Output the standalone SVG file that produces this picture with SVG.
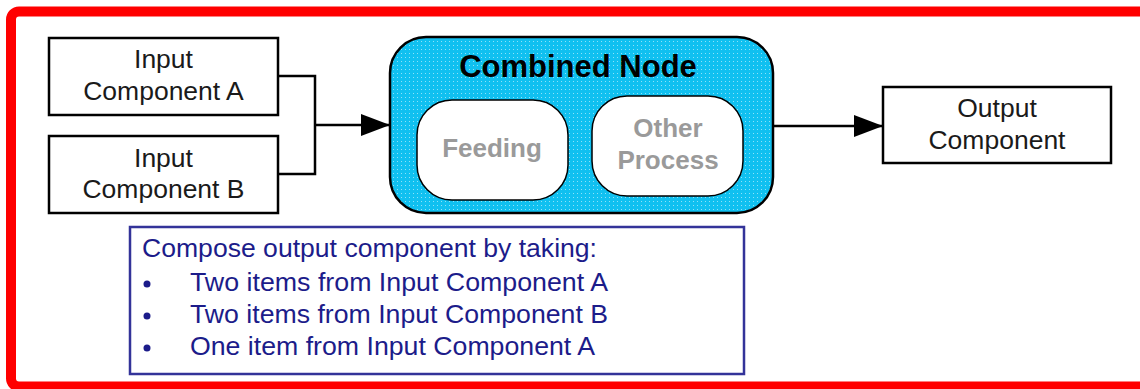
<svg xmlns="http://www.w3.org/2000/svg" width="1140" height="389" viewBox="0 0 1140 389">
<defs>
<style>
.box{fill:#fff;stroke:#000;stroke-width:2.5}
.t{font-family:"Liberation Sans",Arial,sans-serif;font-size:26.5px;fill:#1a1a1a;text-anchor:middle}
.inner{fill:#fff;stroke:#000;stroke-width:1.5}
.g{font-family:"Liberation Sans",Arial,sans-serif;font-size:26px;font-weight:bold;fill:#9a9a9a;text-anchor:middle}
.n{font-family:"Liberation Sans",Arial,sans-serif;font-size:25.5px;fill:#1c1c8a}
.conn{fill:none;stroke:#000;stroke-width:2.5}
</style>
<pattern id="dots" width="4" height="4" patternUnits="userSpaceOnUse">
<rect width="4" height="4" fill="#10C0F0"/>
<rect x="1" y="1" width="1" height="1" fill="#8FE2F8"/>
</pattern>
<marker id="arr" markerWidth="30" markerHeight="22" refX="29" refY="11" orient="auto" markerUnits="userSpaceOnUse">
<path d="M0,0 L29,11 L0,22 Z" fill="#000"/>
</marker>
</defs>
<rect x="11" y="11.5" width="1160" height="375" rx="8" fill="#fff" stroke="#ff0000" stroke-width="10"/>
<g id="connectors">
<path class="conn" d="M278,76 H315 V174 H278"/>
<path class="conn" d="M315,125 H390" marker-end="url(#arr)"/>
<path class="conn" d="M773,126 H883" marker-end="url(#arr)"/>
</g>
<g id="inputA">
<rect class="box" x="49" y="38" width="229" height="77"/>
<text class="t" x="163.5" y="68">Input</text>
<text class="t" x="163.5" y="100">Component A</text>
</g>
<g id="inputB">
<rect class="box" x="49" y="136" width="229" height="77"/>
<text class="t" x="163.5" y="167">Input</text>
<text class="t" x="163.5" y="198">Component B</text>
</g>
<g id="combined">
<rect x="390" y="37" width="383" height="176" rx="36" fill="url(#dots)" stroke="#000" stroke-width="2.5"/>
<text x="578" y="77" font-family="Liberation Sans, Arial, sans-serif" font-size="31" font-weight="bold" text-anchor="middle" fill="#000">Combined Node</text>
<g id="feeding">
<rect class="inner" x="417" y="100" width="151" height="100" rx="35"/>
<text class="g" x="492" y="157">Feeding</text>
</g>
<g id="other">
<rect class="inner" x="592" y="96" width="151" height="100" rx="35"/>
<text class="g" x="668" y="137">Other</text>
<text class="g" x="668" y="169">Process</text>
</g>
</g>
<g id="output">
<rect class="box" x="883" y="87" width="228" height="76"/>
<text class="t" x="997" y="117">Output</text>
<text class="t" x="997" y="149">Component</text>
</g>
<g id="note">
<rect x="130" y="227" width="614" height="147" fill="#fff" stroke="#333399" stroke-width="2.5"/>
<text class="n" x="142" y="257" textLength="455" lengthAdjust="spacingAndGlyphs">Compose output component by taking:</text>
<circle cx="147" cy="284" r="3.5" fill="#1c1c8a"/>
<circle cx="147" cy="316" r="3.5" fill="#1c1c8a"/>
<circle cx="147" cy="348" r="3.5" fill="#1c1c8a"/>
<text class="n" x="190" y="291" textLength="418" lengthAdjust="spacingAndGlyphs">Two items from Input Component A</text>
<text class="n" x="190" y="323" textLength="418" lengthAdjust="spacingAndGlyphs">Two items from Input Component B</text>
<text class="n" x="190" y="355" textLength="405" lengthAdjust="spacingAndGlyphs">One item from Input Component A</text>
</g>
</svg>
